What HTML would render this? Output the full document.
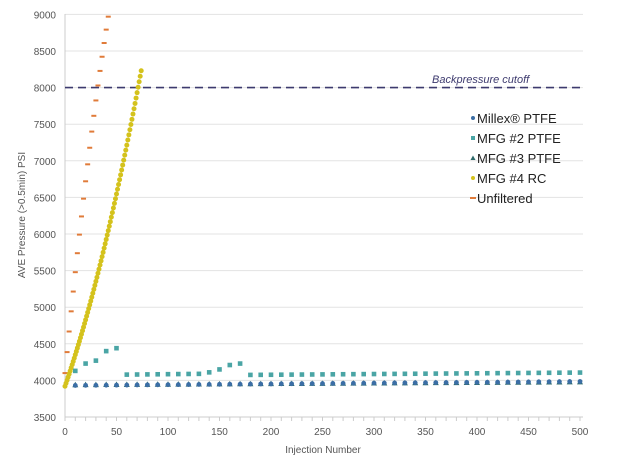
<!DOCTYPE html>
<html><head><style>
html,body{margin:0;padding:0;background:#fff;}
svg{display:block;font-family:"Liberation Sans",sans-serif;}
</style></head><body>
<svg id="c" width="620" height="470" xmlns="http://www.w3.org/2000/svg"></svg>
<script>
var s=document.getElementById('c'),h='';
function X(n){return 65+n*1.03;}
function Y(p){return 417-(p-3500)*0.0732;}
for(var p=3500;p<=9000;p+=500){var y=Y(p);
 if(p>3500)h+='<line x1="65" x2="583" y1="'+y+'" y2="'+y+'" stroke="#e3e3e3" stroke-width="1"/>';
 h+='<text x="56" y="'+(y+4)+'" font-size="10" fill="#555" text-anchor="end">'+p+'</text>';}
h+='<line x1="65" x2="65" y1="14" y2="417" stroke="#ccc"/><line x1="65" x2="583" y1="417" y2="417" stroke="#ccc"/>';
for(var n=0;n<=500;n+=10){h+='<line x1="'+X(n)+'" x2="'+X(n)+'" y1="417" y2="421" stroke="#ccc"/>';}
for(var n=0;n<=500;n+=50){h+='<text x="'+X(n)+'" y="435" font-size="10" fill="#555" text-anchor="middle">'+n+'</text>';}
h+='<text x="323" y="453" font-size="10" fill="#555" text-anchor="middle">Injection Number</text>';
h+='<text transform="translate(25,215) rotate(-90)" font-size="10" fill="#555" text-anchor="middle">AVE Pressure (&gt;0.5min) PSI</text>';
h+='<line x1="65" x2="583" y1="'+Y(8000)+'" y2="'+Y(8000)+'" stroke="#3d3a6e" stroke-width="1.6" stroke-dasharray="8,5"/>';
h+='<text x="432" y="83" font-size="11" font-style="italic" fill="#3d3a6e">Backpressure cutoff</text>';
for(var n=0;n<=42;n+=2){var p=4100+144.7*n-0.685*n*n;h+='<line x1="'+(X(n)-2.5)+'" x2="'+(X(n)+2.5)+'" y1="'+Y(p)+'" y2="'+Y(p)+'" stroke="#e07b39" stroke-width="2"/>';}
for(var n=0;n<=74;n+=1){var p=3920+40.6*n+0.2385*n*n;h+='<circle cx="'+X(n)+'" cy="'+Y(p)+'" r="2.5" fill="#d4c21c"/>';}
var m2={10:4130,20:4230,30:4270,40:4400,50:4440,140:4110,150:4150,160:4210,170:4230};
for(var n=10;n<=500;n+=10){var p=m2[n]||(n<140?4070+n*0.15:4075+(n-180)*0.1);h+='<rect x="'+(X(n)-2.3)+'" y="'+(Y(p)-2.3)+'" width="4.6" height="4.6" fill="#4aa5a5"/>';}
for(var n=10;n<=500;n+=10){var p=3940+n*0.08,y=Y(p),x=X(n);h+='<polygon points="'+x+','+(y-3)+' '+(x-3)+','+(y+2.5)+' '+(x+3)+','+(y+2.5)+'" fill="#2f6b6b"/>';
 var q=3930+n*0.11;h+='<circle cx="'+x+'" cy="'+Y(q)+'" r="2.4" fill="#3b6ea5"/>';}
var L=[['Millex® PTFE','c','#3b6ea5'],['MFG #2 PTFE','r','#4aa5a5'],['MFG #3 PTFE','t','#2f6b6b'],['MFG #4 RC','c','#d4c21c'],['Unfiltered','d','#e07b39']];
for(var i=0;i<5;i++){var y=[118,138,158,178,198][i],x=473,c=L[i][2];
 if(L[i][1]=='c')h+='<circle cx="'+x+'" cy="'+y+'" r="2" fill="'+c+'"/>';
 if(L[i][1]=='r')h+='<rect x="'+(x-2)+'" y="'+(y-2)+'" width="4" height="4" fill="'+c+'"/>';
 if(L[i][1]=='t')h+='<polygon points="'+x+','+(y-2.5)+' '+(x-2.5)+','+(y+2)+' '+(x+2.5)+','+(y+2)+'" fill="'+c+'"/>';
 if(L[i][1]=='d')h+='<line x1="'+(x-3)+'" x2="'+(x+3)+'" y1="'+y+'" y2="'+y+'" stroke="'+c+'" stroke-width="2"/>';
 h+='<text x="477" y="'+(y+5)+'" font-size="13" fill="#222">'+L[i][0]+'</text>';}
s.innerHTML=h;
</script>
</body></html>
